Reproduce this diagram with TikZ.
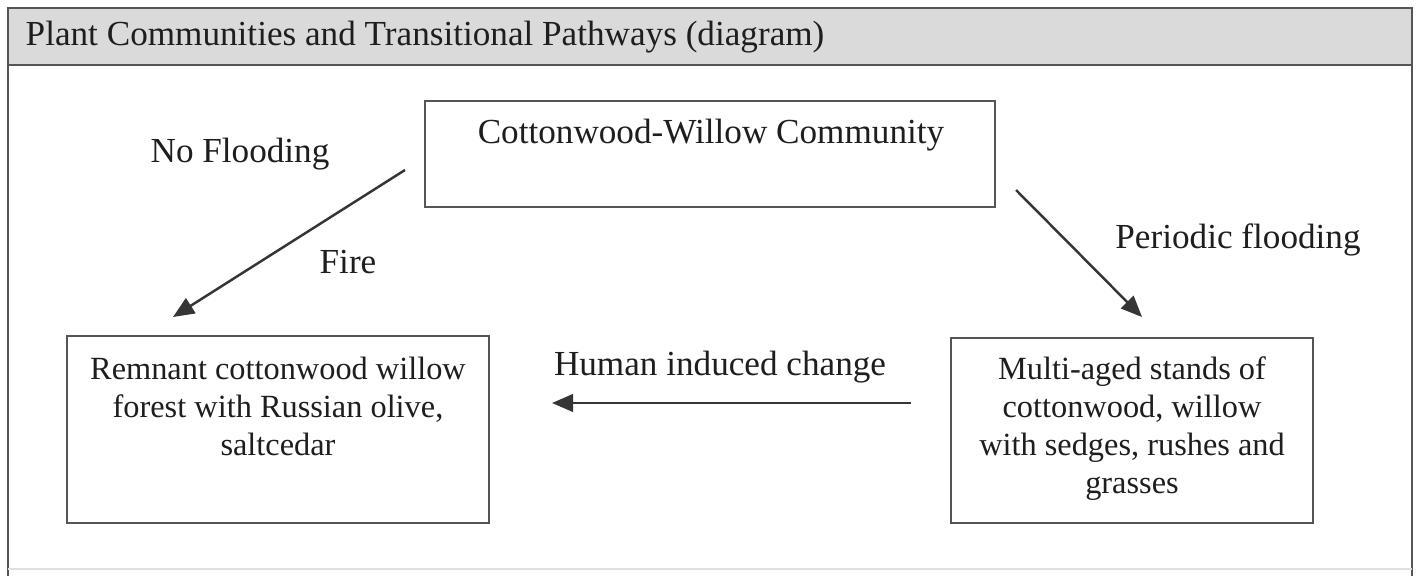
\documentclass[tikz,border=0pt]{standalone}
\usepackage{fontspec}
\setmainfont{Liberation Serif}
\usetikzlibrary{arrows.meta}
\definecolor{frame}{HTML}{555555}
\definecolor{band}{HTML}{DADADA}
\definecolor{ink}{HTML}{1E1E1E}
\begin{document}
\begin{tikzpicture}[x=0.01cm,y=-0.01cm,
  box/.style={draw=frame,line width=0.75pt,rectangle,inner sep=0pt},
  txt/.style={text=ink,font=\fontsize{10}{10.8}\selectfont,align=center,inner sep=0pt},
  boxtxt/.style={txt,font=\fontsize{9.2}{10.8}\selectfont},
  arr/.style={draw=ink!90,line width=0.7pt,-{Triangle[length=6pt,width=5pt]}}]
\useasboundingbox (0,0) rectangle (1418,576);
\fill[white] (0,0) rectangle (1418,576);
% frame and header band
\fill[band] (8,8) rectangle (1412,65);
\draw[frame,line width=0.8pt] (8,576) -- (8,8) -- (1412,8) -- (1412,576);
\draw[frame,line width=0.8pt] (8,65) -- (1412,65);
\draw[black!12,line width=0.4pt] (8,569) -- (1412,569);
\node[txt,anchor=west] (title) at (25,37) {Plant Communities and Transitional Pathways (diagram)};
% boxes
\node[box,minimum width=5.70cm,minimum height=1.06cm] (top) at (710,154) {};
\node[box,minimum width=4.22cm,minimum height=1.87cm] (left) at (278,429.5) {};
\node[box,minimum width=3.62cm,minimum height=1.85cm] (right) at (1132,430.5) {};
\node[txt] (toptext) at (711,135) {Cottonwood-Willow Community};
\node[boxtxt] (lefttext) at (278,406) {Remnant cottonwood willow\\forest with Russian olive,\\saltcedar};
\node[boxtxt] (righttext) at (1132,429) {Multi-aged stands of\\cottonwood, willow\\with sedges, rushes and\\grasses};
% labels
\node[txt] (noflood) at (240,154) {No Flooding};
\node[txt] (fire) at (348,262) {Fire};
\node[txt] (periodic) at (1238,240) {Periodic flooding};
\node[txt] (human) at (720,367) {Human induced change};
% arrow ends
\coordinate (fireS) at (405,170);
\coordinate (fireE) at (173,317);
\coordinate (perS) at (1016,190);
\coordinate (perE) at (1142,317);
\coordinate (humS) at (911,403);
\coordinate (humE) at (552,403);
\draw[arr] (fireS) -- (fireE);
\draw[arr] (perS) -- (perE);
\draw[arr] (humS) -- (humE);
\end{tikzpicture}
\end{document}
